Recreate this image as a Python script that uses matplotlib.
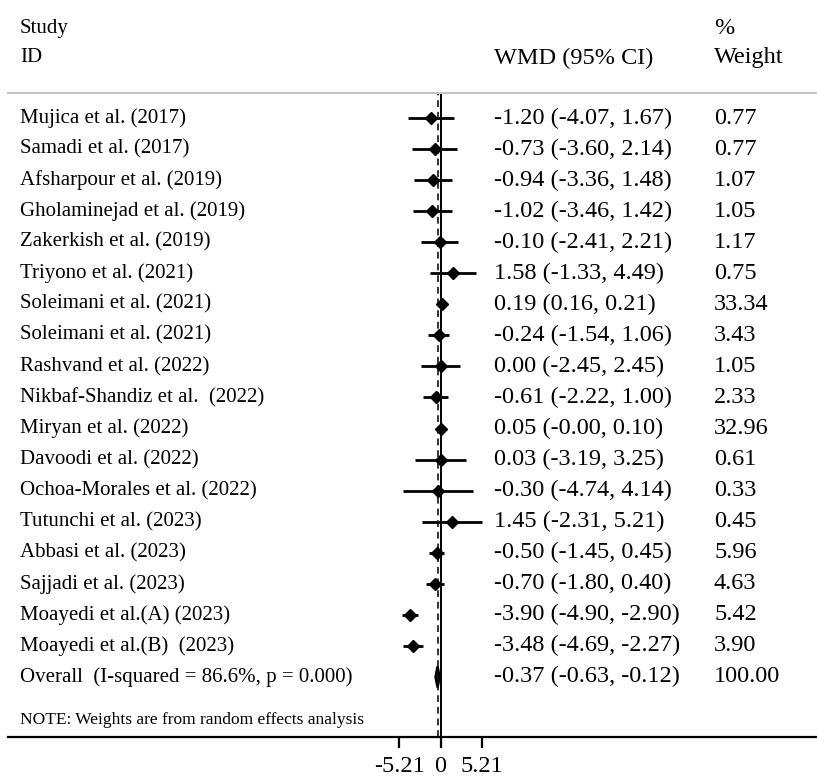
import matplotlib
matplotlib.use("Agg")
import matplotlib.pyplot as plt
import matplotlib.transforms as mtransforms

plt.rcParams["font.family"] = ["Liberation Serif", "DejaVu Serif"]

studies = [
    "Mujica et al. (2017)",
    "Samadi et al. (2017)",
    "Afsharpour et al. (2019)",
    "Gholaminejad et al. (2019)",
    "Zakerkish et al. (2019)",
    "Triyono et al. (2021)",
    "Soleimani et al. (2021)",
    "Soleimani et al. (2021)",
    "Rashvand et al. (2022)",
    "Nikbaf-Shandiz et al.  (2022)",
    "Miryan et al. (2022)",
    "Davoodi et al. (2022)",
    "Ochoa-Morales et al. (2022)",
    "Tutunchi et al. (2023)",
    "Abbasi et al. (2023)",
    "Sajjadi et al. (2023)",
    "Moayedi et al.(A) (2023)",
    "Moayedi et al.(B)  (2023)",
]
wmd = [-1.20, -0.73, -0.94, -1.02, -0.10, 1.58, 0.19, -0.24, 0.00, -0.61,
       0.05, 0.03, -0.30, 1.45, -0.50, -0.70, -3.90, -3.48]
ci_low = [-4.07, -3.60, -3.36, -3.46, -2.41, -1.33, 0.16, -1.54, -2.45, -2.22,
          -0.00, -3.19, -4.74, -2.31, -1.45, -1.80, -4.90, -4.69]
ci_high = [1.67, 2.14, 1.48, 1.42, 2.21, 4.49, 0.21, 1.06, 2.45, 1.00,
           0.10, 3.25, 4.14, 5.21, 0.45, 0.40, -2.90, -2.27]
weights = [0.77, 0.77, 1.07, 1.05, 1.17, 0.75, 33.34, 3.43, 1.05, 2.33,
           32.96, 0.61, 0.33, 0.45, 5.96, 4.63, 5.42, 3.90]

overall_label = "Overall  (I-squared = 86.6%, p = 0.000)"
overall_est, overall_low, overall_high = -0.37, -0.63, -0.12
overall_weight = 100.00
xticks = [-5.21, 0, 5.21]

W, H = 817, 780
fig = plt.figure(figsize=(W / 100, H / 100), dpi=100)

# axes spans the forest panel; x scale ~7.9 px per unit with zero at 440 px
left_px, right_px, top_px, bottom_px = 8, 817, 93, 737
zero_px, px_per_unit = 440.5, 7.9
row0_px, row_step = 118, 31.05
ax = fig.add_axes([left_px / W, 1 - bottom_px / H,
                   (right_px - left_px) / W, (bottom_px - top_px) / H])
ax.set_xlim((left_px - zero_px) / px_per_unit, (right_px - zero_px) / px_per_unit)
ax.set_ylim(18 + (bottom_px - row0_px - 18 * row_step) / row_step,
            -(row0_px - top_px) / row_step)

for s in ("left", "right"):
    ax.spines[s].set_visible(False)
ax.spines["top"].set_color("#c4c4c4")
ax.spines["top"].set_linewidth(1.5)
ax.spines["bottom"].set_linewidth(1.6)
ax.set_yticks([])
ax.set_xticks(xticks)
ax.set_xticklabels(["-5.21", "0", "5.21"])
ax.tick_params(axis="x", length=8, width=1.6, labelsize=17.5, pad=6)

ax.axvline(0, color="black", lw=1.4, zorder=1)
ax.axvline(overall_est, color="#333333", lw=1.4, ls=(0, (3.5, 2.5)), zorder=1)

rows = list(range(len(studies)))
for r, est, lo, hi in zip(rows, wmd, ci_low, ci_high):
    ax.plot([lo, hi], [r, r], color="black", lw=2.0, solid_capstyle="butt", zorder=3)
    ax.plot(est, r, marker="D", ms=6.2, color="black", zorder=4)

r_ov = len(studies)
h = 0.34
ax.fill([overall_low, overall_est, overall_high, overall_est],
        [r_ov, r_ov - h, r_ov, r_ov + h],
        facecolor="#1a1a40", edgecolor="black", lw=1.8, zorder=4)

# text columns
tr = mtransforms.blended_transform_factory(fig.transFigure, ax.transData)
x_lab, x_ci, x_w = 20 / W, 494 / W, 714 / W
for r, name, est, lo, hi, wt in zip(rows, studies, wmd, ci_low, ci_high, weights):
    ax.text(x_lab, r, name, transform=tr, fontsize=15, va="center", ha="left")
    ax.text(x_ci, r, f"{est:.2f} ({lo:.2f}, {hi:.2f})", transform=tr,
            fontsize=17.5, va="center", ha="left")
    ax.text(x_w, r, f"{wt:.2f}", transform=tr, fontsize=17.5, va="center", ha="left")

ax.text(x_lab, r_ov, overall_label, transform=tr, fontsize=15, va="center")
ax.text(x_ci, r_ov, f"{overall_est:.2f} ({overall_low:.2f}, {overall_high:.2f})",
        transform=tr, fontsize=17.5, va="center")
ax.text(x_w, r_ov, f"{overall_weight:.2f}", transform=tr, fontsize=17.5, va="center")
ax.text(x_lab, r_ov + 1.39, "NOTE: Weights are from random effects analysis",
        transform=tr, fontsize=12.5, va="center")

# column headers
fig.text(x_lab, 1 - 28 / H, "Study", fontsize=15, va="center")
fig.text(x_lab, 1 - 58 / H, "ID", fontsize=15, va="center")
fig.text(x_ci, 1 - 58 / H, "WMD (95% CI)", fontsize=17.5, va="center")
fig.text(x_w, 1 - 28 / H, "%", fontsize=17.5, va="center")
fig.text(x_w, 1 - 58 / H, "Weight", fontsize=17.5, va="center")

fig.savefig("out.png", dpi=100)
